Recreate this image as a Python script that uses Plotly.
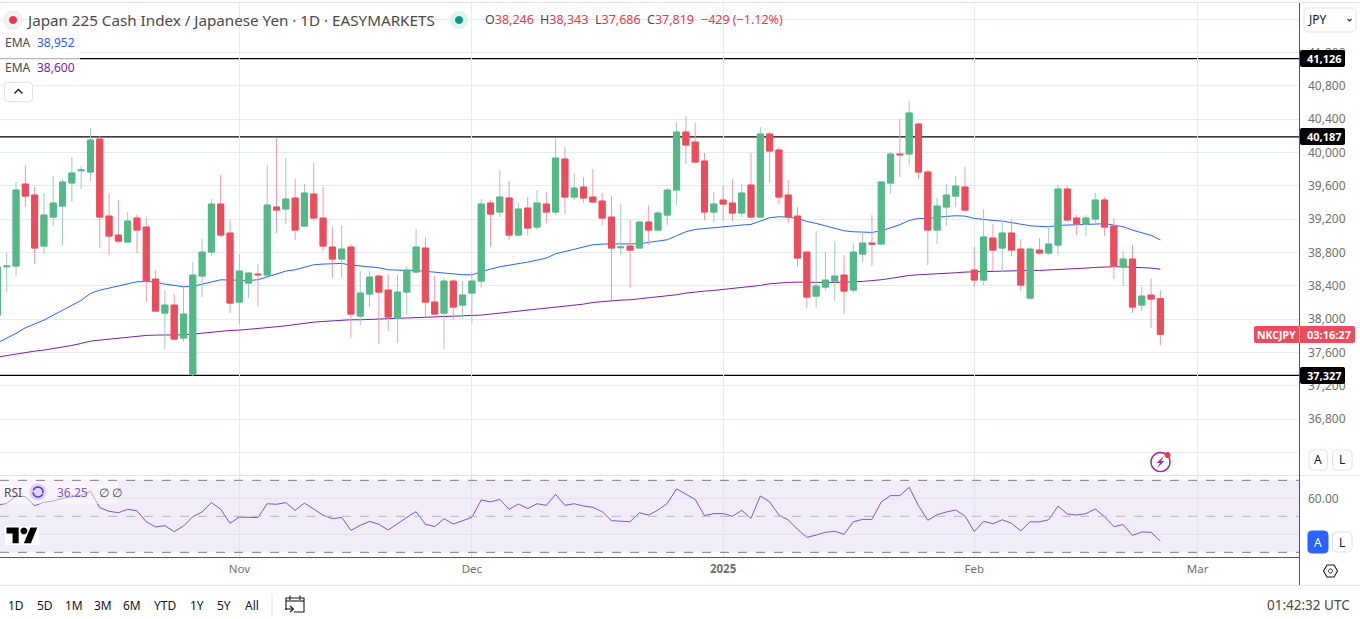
import math
import plotly.graph_objects as go

W, H = 1360, 619
FONT = "Noto Sans"

# daily bars, index 0 is the partly hidden candle at the left edge
opens = [38049, 38629, 38637, 39621, 39489, 38877, 39225, 39357, 39633, 39781, 39765, 40161, 39237, 39009, 38925, 39213,
         39105, 38481, 38073, 38169, 37773, 37341, 38517, 38805, 39381, 39033, 38205, 38433, 38541, 38529, 39345, 39321,
         39453, 39117, 39501, 39213, 38865, 38721, 38865, 38037, 38301, 38517, 38349, 38013, 38325, 38565, 38853, 38205,
         38073, 38457, 38169, 38313, 38457, 39393, 39285, 39453, 39009, 39333, 39105, 39381, 39285, 39921, 39465, 39585,
         39465, 39417, 39225, 38857, 38877, 38853, 39165, 39069, 39249, 39549, 40245, 40125, 39897, 39285, 39429, 39393,
         39273, 39609, 39225, 40221, 40029, 39489, 39237, 38805, 38277, 38385, 38457, 38529, 38349, 38781, 38913, 38901,
         39633, 39981, 39981, 40341, 39765, 39069, 39345, 39477, 39585, 38589, 38469, 38973, 38853, 39033, 38841, 38253,
         38829, 38793, 38889, 39561, 39213, 39141, 39201, 39429, 39117, 38625, 38721, 38169, 38289, 38246]
highs = [38669, 38793, 39645, 39849, 39585, 39513, 39717, 39681, 39945, 39837, 40293, 40197, 39513, 39429, 39285, 39261,
         39225, 38589, 38349, 38301, 38385, 38685, 38961, 39441, 39729, 39189, 38781, 38565, 38661, 39849, 40173, 39933,
         39681, 39621, 39873, 39585, 39105, 39129, 38901, 38577, 38577, 38541, 38541, 38529, 38637, 39081, 38985, 38517,
         38493, 38481, 38457, 38565, 39441, 39429, 39789, 39657, 39393, 39465, 39549, 39525, 40173, 40065, 39753, 39705,
         39801, 39513, 39477, 39381, 39189, 39177, 39369, 39297, 39573, 40365, 40437, 40353, 39993, 39525, 39597, 39681,
         39621, 39993, 40305, 40245, 40065, 39669, 39345, 38805, 39057, 38805, 38937, 38769, 38913, 39033, 39249, 39657,
         40005, 40401, 40617, 40353, 39789, 39453, 39621, 39717, 39825, 38865, 39321, 39141, 39177, 39201, 38961, 38865,
         38973, 39129, 39609, 39597, 39249, 39249, 39513, 39465, 39213, 38817, 38889, 38385, 38493, 38343]
lows = [37989, 38325, 38517, 39345, 38661, 38781, 39117, 38889, 39405, 39561, 39657, 38853, 38769, 38913, 38913, 38793,
        38205, 38097, 37641, 37749, 37725, 37317, 38265, 38757, 38985, 38073, 37941, 38253, 38157, 38529, 39033, 39141,
        38949, 39117, 39177, 38817, 38493, 38505, 37773, 37929, 38145, 37701, 37857, 37713, 38049, 38565, 38025, 38061,
        37641, 37989, 38013, 37953, 38373, 38865, 39225, 38949, 39009, 38997, 39069, 39153, 39249, 39261, 39429, 39393,
        39405, 39129, 38229, 38769, 38373, 38853, 38889, 39045, 39129, 39369, 39861, 39885, 39189, 39165, 39177, 39177,
        39225, 39213, 39213, 39633, 39381, 39153, 38625, 38133, 38133, 38349, 38217, 38061, 38313, 38685, 38637, 38901,
        39501, 39705, 39849, 39681, 38649, 38901, 39117, 39345, 39285, 38385, 38409, 38577, 38565, 38757, 38337, 38253,
        38769, 38769, 38769, 39177, 39009, 38997, 39141, 38997, 38481, 38397, 38073, 38097, 37893, 37686]
closes = [38625, 38637, 39549, 39477, 38853, 39249, 39393, 39645, 39753, 39789, 40149, 39225, 38997, 38937, 39177, 39069,
          38457, 38097, 38169, 37761, 38061, 38529, 38805, 39381, 39009, 38193, 38577, 38553, 38533, 39369, 39309, 39441,
          39069, 39513, 39213, 38877, 38721, 38841, 38061, 38313, 38505, 38325, 38025, 38325, 38589, 38865, 38205, 38061,
          38457, 38145, 38289, 38457, 39381, 39261, 39465, 39009, 39321, 39093, 39393, 39285, 39933, 39465, 39573, 39453,
          39405, 39213, 38853, 38865, 38829, 39165, 39069, 39273, 39549, 40245, 40089, 39885, 39285, 39381, 39381, 39273,
          39513, 39225, 40221, 40017, 39465, 39225, 38733, 38265, 38397, 38469, 38517, 38337, 38805, 38913, 38901, 39645,
          39981, 39973, 40473, 39765, 39069, 39357, 39489, 39597, 39309, 38469, 38985, 38829, 39033, 38829, 38409, 38841,
          38793, 38901, 39561, 39189, 39141, 39213, 39429, 39105, 38637, 38721, 38145, 38277, 38241, 37819]

ema_fast = [37717, 37769, 37829, 37897, 37941, 37989, 38049, 38109, 38169, 38225, 38309, 38349, 38373, 38397, 38425, 38449,
            38453, 38445, 38421, 38401, 38389, 38393, 38417, 38449, 38473, 38469, 38465, 38465, 38473, 38509, 38541, 38577,
            38593, 38625, 38653, 38661, 38669, 38669, 38649, 38637, 38629, 38617, 38593, 38585, 38585, 38585, 38573, 38561,
            38557, 38545, 38533, 38533, 38569, 38601, 38629, 38645, 38665, 38685, 38709, 38733, 38785, 38813, 38841, 38873,
            38893, 38901, 38901, 38897, 38897, 38905, 38921, 38933, 38953, 39001, 39049, 39077, 39089, 39101, 39109, 39117,
            39129, 39137, 39177, 39217, 39229, 39225, 39209, 39173, 39149, 39121, 39097, 39061, 39049, 39041, 39041, 39061,
            39093, 39133, 39185, 39209, 39209, 39225, 39233, 39241, 39237, 39209, 39193, 39185, 39177, 39157, 39133, 39121,
            39113, 39109, 39125, 39129, 39129, 39133, 39141, 39145, 39129, 39109, 39069, 39037, 39005, 38952]
ema_slow = [37545, 37565, 37581, 37601, 37617, 37629, 37645, 37661, 37685, 37709, 37737, 37749, 37761, 37773, 37789, 37797,
            37805, 37809, 37809, 37809, 37813, 37821, 37833, 37845, 37861, 37865, 37869, 37877, 37885, 37897, 37909, 37921,
            37937, 37949, 37965, 37973, 37981, 37989, 37993, 37993, 37997, 38001, 38001, 38005, 38013, 38017, 38021, 38021,
            38025, 38033, 38033, 38041, 38049, 38061, 38073, 38085, 38093, 38105, 38113, 38129, 38145, 38157, 38169, 38181,
            38201, 38213, 38221, 38229, 38233, 38245, 38253, 38265, 38277, 38293, 38313, 38329, 38337, 38345, 38357, 38365,
            38373, 38385, 38405, 38425, 38437, 38441, 38445, 38441, 38441, 38441, 38441, 38449, 38449, 38453, 38461, 38473,
            38489, 38509, 38525, 38533, 38537, 38541, 38549, 38557, 38565, 38569, 38573, 38577, 38577, 38581, 38581, 38585,
            38585, 38589, 38597, 38605, 38609, 38613, 38621, 38629, 38629, 38629, 38625, 38621, 38613, 38600]
rsi = [56.3, 57.2, 61.3, 60.9, 55.9, 57.8, 58.5, 60.0, 60.9, 61.7, 63.9, 54.8, 52.8, 52.0, 53.9, 53.1, 47.0, 44.1, 44.8,
       41.5, 44.6, 49.8, 52.4, 57.6, 53.9, 46.1, 49.6, 49.4, 49.3, 57.0, 56.7, 57.6, 53.3, 57.4, 53.9, 50.6, 48.7, 49.4,
       42.2, 45.0, 47.2, 45.6, 42.4, 46.1, 49.4, 52.6, 45.6, 44.3, 48.7, 45.7, 47.4, 49.4, 59.1, 58.0, 59.4, 53.9, 56.9,
       54.3, 57.0, 56.1, 62.2, 56.1, 57.0, 55.7, 55.0, 52.6, 47.6, 47.4, 47.0, 52.0, 50.7, 53.5, 57.2, 65.2, 62.4, 59.4,
       50.4, 51.5, 51.5, 50.0, 53.3, 48.9, 61.3, 58.1, 50.7, 48.0, 42.8, 38.3, 39.6, 41.1, 41.7, 40.0, 47.0, 48.3, 48.3,
       58.0, 61.5, 61.5, 66.1, 55.9, 47.8, 50.9, 52.4, 53.5, 50.2, 41.5, 47.2, 45.9, 48.1, 46.1, 41.9, 47.0, 46.9, 48.1,
       55.7, 51.3, 50.7, 51.5, 54.1, 49.8, 44.3, 45.4, 39.4, 41.3, 41.1, 36.25]

bars = list(range(len(closes)))

month_bars = [26, 51, 78, 105, 129]
month_labels = ["Nov", "Dec", "<b>2025</b>", "Feb", "Mar"]
price_ticks = [36400, 36800, 37200, 37600, 38000, 38400, 38800, 39200, 39600, 40000, 40400, 40800, 41200, 41600]
price_labels = ["", "36,800", "37,200", "37,600", "38,000", "38,400", "38,800", "39,200", "39,600", "40,000", "40,400",
                "40,800", "41,200", ""]
levels = [41126, 40187, 37327]
level_labels = ["41,126", "40,187", "37,327"]
rsi_ticks = [40, 60]
rsi_labels = ["", "60.00"]
rsi_bands = [30, 50, 70]
ranges = ["1D", "5D", "1M", "3M", "6M", "YTD", "1Y", "5Y", "All"]
range_x = [16, 45, 74, 103, 132, 165, 197, 224, 252]

GREEN = "#53B987"
RED = "#EB4D5C"
GRID = "#E4ECF2"
BORDER = "#E0E3EB"
DARK = "#555555"
TEXT = "#4A4A4A"
AXIS_TEXT = "#6F6F6F"
BLUE = "#2962FF"
PURPLE = "#7B1FA2"
RSI_LINE = "#7E57C2"


def X(px):
    return px / W


def Y(py):
    return 1 - py / H


def poly(points, close=True):
    path = "M" + " L".join(f"{X(a):.5f},{Y(b):.5f}" for a, b in points)
    return path + (" Z" if close else "")


def disc(cx, cy, r, n=24):
    return poly([(cx + r * math.cos(2 * math.pi * k / n), cy + r * math.sin(2 * math.pi * k / n)) for k in range(n)])


def rrect(x0, y0, x1, y1, r):
    return (f"M{X(x0 + r):.5f},{Y(y0):.5f} L{X(x1 - r):.5f},{Y(y0):.5f} Q{X(x1):.5f},{Y(y0):.5f} {X(x1):.5f},{Y(y0 + r):.5f} "
            f"L{X(x1):.5f},{Y(y1 - r):.5f} Q{X(x1):.5f},{Y(y1):.5f} {X(x1 - r):.5f},{Y(y1):.5f} "
            f"L{X(x0 + r):.5f},{Y(y1):.5f} Q{X(x0):.5f},{Y(y1):.5f} {X(x0):.5f},{Y(y1 - r):.5f} "
            f"L{X(x0):.5f},{Y(y0 + r):.5f} Q{X(x0):.5f},{Y(y0):.5f} {X(x0 + r):.5f},{Y(y0):.5f} Z")


def shape_path(path, fill="rgba(0,0,0,0)", line="rgba(0,0,0,0)", width=1):
    return dict(type="path", xref="paper", yref="paper", path=path, fillcolor=fill, line=dict(color=line, width=width))


def seg(x0, y0, x1, y1, color, width=1):
    return dict(type="line", xref="paper", yref="paper", x0=X(x0), y0=Y(y0), x1=X(x1), y1=Y(y1),
                line=dict(color=color, width=width))


def note(px, py, text, size=12, color=TEXT, anchor="left", **kw):
    return dict(xref="paper", yref="paper", x=X(px), y=Y(py), text=text, showarrow=False, xanchor=anchor,
                yanchor="middle", font=dict(family=FONT, size=size, color=color), borderpad=0, **kw)


fig = go.Figure()

# emas on the base axes so the candles, on overlay axes, are painted over them
fig.add_trace(go.Scatter(x=bars, y=ema_slow, mode="lines", line=dict(color=PURPLE, width=1), showlegend=False, hoverinfo="skip"))
fig.add_trace(go.Scatter(x=bars, y=ema_fast, mode="lines", line=dict(color=BLUE, width=1), showlegend=False, hoverinfo="skip"))

# wicks first, then solid bodies on top because a candlestick has only one line colour
fig.add_trace(go.Candlestick(
    x=bars, open=opens, high=highs, low=lows, close=closes, xaxis="x3", yaxis="y3",
    increasing=dict(line=dict(color="#9FCBC6", width=1), fillcolor=GREEN),
    decreasing=dict(line=dict(color="#F59BA7", width=1), fillcolor=RED),
    showlegend=False, hoverinfo="skip"
))
fig.add_trace(go.Candlestick(
    x=bars, open=opens, close=closes, xaxis="x3", yaxis="y3",
    high=[max(a, b) for a, b in zip(opens, closes)],
    low=[min(a, b) for a, b in zip(opens, closes)],
    increasing=dict(line=dict(color=GREEN, width=1), fillcolor=GREEN),
    decreasing=dict(line=dict(color=RED, width=1), fillcolor=RED),
    showlegend=False, hoverinfo="skip"
))
fig.add_trace(go.Scatter(x=bars, y=rsi, mode="lines", line=dict(color=RSI_LINE, width=1), xaxis="x2", yaxis="y2",
                         showlegend=False, hoverinfo="skip"))

shapes = [
    dict(type="rect", xref="x domain", yref="y2", x0=0, x1=1, y0=30, y1=70, fillcolor="#F0EDF8", line_width=0, layer="below"),
]
for band in rsi_bands:
    shapes.append(dict(type="line", xref="x domain", yref="y2", x0=0, x1=1, y0=band, y1=band,
                       line=dict(color="#B5B3BC" if band == 50 else "#787B86", width=1, dash="dash")))
for lvl in levels:
    shapes.append(dict(type="line", xref="x domain", yref="y", x0=0, x1=1, y0=lvl, y1=lvl, layer="below",
                       line=dict(color="#000000", width=1.3)))

# panel separators
shapes += [
    seg(0, 2.5, W, 2.5, BORDER),
    seg(0, 475.5, W, 475.5, BORDER),
    seg(0, 557.5, 1299.5, 557.5, DARK),
    seg(0, 585.5, W, 585.5, BORDER),
    seg(1299.5, 3, 1299.5, 585, DARK),
    seg(272, 594, 272, 616, BORDER),
]

# legend backdrops
shapes += [
    dict(type="rect", xref="paper", yref="paper", x0=0, x1=X(80), y0=Y(76), y1=Y(34), fillcolor="rgba(255,255,255,0.72)", line_width=0),
    dict(type="rect", xref="paper", yref="paper", x0=0, x1=X(118), y0=Y(504), y1=Y(481), fillcolor="rgba(255,255,255,0.45)", line_width=0),
]

# buttons
shapes += [
    shape_path(rrect(4.5, 82.5, 32.5, 101.5, 3), "#FFFFFF", BORDER),
    shape_path(poly([(14.5, 93.5), (18.5, 89.5), (22.5, 93.5)], close=False), line="#131722", width=1.3),
    shape_path(rrect(1304, 8, 1356, 32, 4), "#FFFFFF", BORDER),
    shape_path(poly([(1347.5, 19), (1349.5, 21), (1351.5, 19)], close=False), line="#333333", width=1.1),
    shape_path(rrect(1309, 450, 1327.5, 470, 4), "#FFFFFF", BORDER),
    shape_path(rrect(1332.5, 450, 1352, 470, 4), "#FFFFFF", BORDER),
    shape_path(rrect(1308, 531, 1328, 553, 4), BLUE, BLUE),
    shape_path(rrect(1332.5, 532, 1352, 552, 4), "#FFFFFF", BORDER),
]

# status dots in the header
shapes += [
    shape_path(disc(13, 20, 9), "#F0F3FA", "#E4E7EF"),
    shape_path(disc(13, 20, 4), "#F23645"),
    shape_path(disc(459, 20, 9), "#DCF3EE"),
    shape_path(disc(459, 20, 4), "#089981"),
]

# price and timer tags
shapes.append(shape_path(rrect(1254, 326, 1355, 343, 2), RED))
shapes.append(seg(1299.5, 326, 1299.5, 343, "#F59BA7"))
for tag_y in [58.5, 136.5, 375.5]:
    shapes.append(shape_path(rrect(1300, tag_y - 8.5, 1345, tag_y + 8.5, 2), "#000000"))

# tv logo with its white outline
logo = [(6.5 + a * 0.87, 524 + b * 0.87) for a, b in [(14, 22), (7, 22), (7, 11), (0, 11), (0, 4), (14, 4)]]
slash = [(6.5 + a * 0.87, 524 + b * 0.87) for a, b in [(28, 22), (20, 22), (27.5, 4), (35.5, 4)]]
shapes += [
    shape_path(poly([(5, 526), (39, 526), (39, 545), (5, 545)]), "#FFFFFF"),
    shape_path(poly(logo), "#000000"),
    shape_path(poly(slash), "#000000"),
    shape_path(disc(6.5 + 20 * 0.87, 524 + 8 * 0.87, 3.4), "#000000"),
]

# rsi sync icon
shapes += [
    shape_path(disc(38, 492, 8.5), "#DDD5F5"),
    shape_path(poly([(38 + 5 * math.cos(t / 10), 492 + 5 * math.sin(t / 10)) for t in range(-28, 4, 3)], close=False), line="#5E35D6", width=1.5),
    shape_path(poly([(38 + 5 * math.cos(t / 10), 492 + 5 * math.sin(t / 10)) for t in range(4, 34, 3)], close=False), line="#5E35D6", width=1.5),
]

# lightning badge
shapes += [
    shape_path(disc(1160.5, 462, 9.5), "rgba(0,0,0,0)", "#9C27B0", 1.5),
    shape_path(poly([(1164, 456), (1156.5, 463), (1160, 463), (1157, 468), (1164.5, 461), (1161, 461)]), "#9C27B0"),
    shape_path(disc(1167.5, 455, 3), "#F23645"),
]

# settings hexagon
shapes += [
    shape_path(poly([(1323.5, 571), (1327, 565), (1334, 565), (1337.5, 571), (1334, 577), (1327, 577)]), line="#131722", width=1.1),
    shape_path(disc(1330.5, 571, 2), line="#131722"),
]

# calendar icon
shapes += [
    shape_path(poly([(286, 610), (286, 598), (304, 598), (304, 612), (294, 612)], close=False), line="#131722", width=1.1),
    seg(286, 601, 304, 601, "#131722", 1.1),
    seg(290, 595.5, 290, 600, "#131722", 1.1),
    seg(300, 595.5, 300, 600, "#131722", 1.1),
    seg(285, 609, 293, 609, "#131722", 1.1),
    shape_path(poly([(290, 606), (293.5, 609), (290, 612)], close=False), line="#131722", width=1.1),
]

RED_TXT = "#F23645"
annotations = [
    note(25, 20, "Japan 225 Cash Index / Japanese Yen · 1D · EASYMARKETS", 15.2, TEXT),
    note(484, 20, f"O<span style='color:{RED_TXT}'>38,246</span>", 12.5, TEXT),
    note(539, 20, f"H<span style='color:{RED_TXT}'>38,343</span>", 12.5, TEXT),
    note(594, 20, f"L<span style='color:{RED_TXT}'>37,686</span>", 12.5, TEXT),
    note(646, 20, f"C<span style='color:{RED_TXT}'>37,819</span>", 12.5, TEXT),
    note(700, 20, "−429 (−1.12%)", 12.5, RED_TXT),
    note(4, 43, "EMA", 12, TEXT),
    note(36, 43, "38,952", 12, BLUE),
    note(4, 67, "EMA", 12, TEXT),
    note(36, 67, "38,600", 12, PURPLE),
    note(1307, 19.5, "JPY", 12, "#131722"),
    note(1276.5, 334.5, "<b>NKCJPY</b>", 10.5, "#FFFFFF", anchor="center"),
    note(1329, 334.5, "<b>03:16:27</b>", 11, "#FFFFFF", anchor="center"),
    note(1318, 460, "A", 12, "#131722", anchor="center"),
    note(1342, 460, "L", 12, "#131722", anchor="center"),
    note(1318, 542, "A", 12, "#FFFFFF", anchor="center"),
    note(1342, 542, "L", 12, "#131722", anchor="center"),
    note(3, 492, "RSI", 12, TEXT),
    note(56, 492, "36.25", 12, RSI_LINE),
    note(98, 492, "∅", 12, TEXT),
    note(111, 492, "∅", 12, TEXT),
    note(1351, 605, "01:42:32 UTC", 13.5, TEXT, anchor="right"),
]
for tag_y, label in zip([58.5, 136.5, 375.5], level_labels):
    annotations.append(note(1324.5, tag_y, f"<b>{label}</b>", 11, "#FFFFFF", anchor="center"))
for rx, label in zip(range_x, ranges):
    annotations.append(note(rx, 605, label, 12, "#131722", anchor="center"))

x_range = [0.277, 139.9]
y_range = [36131, 41793]
fig.update_layout(
    width=W, height=H,
    margin=dict(l=0, r=0, t=0, b=0),
    paper_bgcolor="#FFFFFF", plot_bgcolor="#FFFFFF",
    showlegend=False,
    boxgap=0.35, boxgroupgap=0,
    xaxis=dict(domain=[0, 1299 / W], range=x_range, anchor="y", tickmode="array",
               tickvals=month_bars, ticktext=["" for _ in month_bars], showgrid=True, gridcolor=GRID, gridwidth=1,
               zeroline=False, showline=False, ticks=""),
    yaxis=dict(domain=[1 - 475 / H, 1 - 3 / H], range=y_range, side="right", anchor="x", tickmode="array",
               tickvals=price_ticks, ticktext=price_labels, showgrid=True, gridcolor=GRID, gridwidth=1, zeroline=False,
               showline=False, ticks="", ticklabelstandoff=8, tickfont=dict(family=FONT, size=12, color=AXIS_TEXT)),
    xaxis2=dict(domain=[0, 1299 / W], range=x_range, anchor="y2", tickmode="array", tickvals=month_bars,
                ticktext=month_labels, showgrid=True, gridcolor="#DDE3F0", gridwidth=1, zeroline=False, showline=False,
                ticks="", ticklabelstandoff=3, tickfont=dict(family=FONT, size=11.5, color=AXIS_TEXT)),
    yaxis2=dict(domain=[1 - 557 / H, 1 - 476 / H], range=[27.4, 72.4], side="right", anchor="x2", tickmode="array",
                tickvals=rsi_ticks, ticktext=rsi_labels, showgrid=True, gridcolor="#DDE3F0", gridwidth=1, zeroline=False,
                showline=False, ticks="", ticklabelstandoff=8, tickfont=dict(family=FONT, size=12, color=AXIS_TEXT)),
    xaxis3=dict(overlaying="x", anchor="y3", range=x_range, visible=False, rangeslider=dict(visible=False)),
    yaxis3=dict(overlaying="y", anchor="x3", range=y_range, side="right", visible=False),
    shapes=shapes,
    annotations=annotations,
)

# the default page body has a margin that would push the plot off the window
fig.write_html("out.html", config={"displayModeBar": False}, post_script="document.body.style.margin='0';")
